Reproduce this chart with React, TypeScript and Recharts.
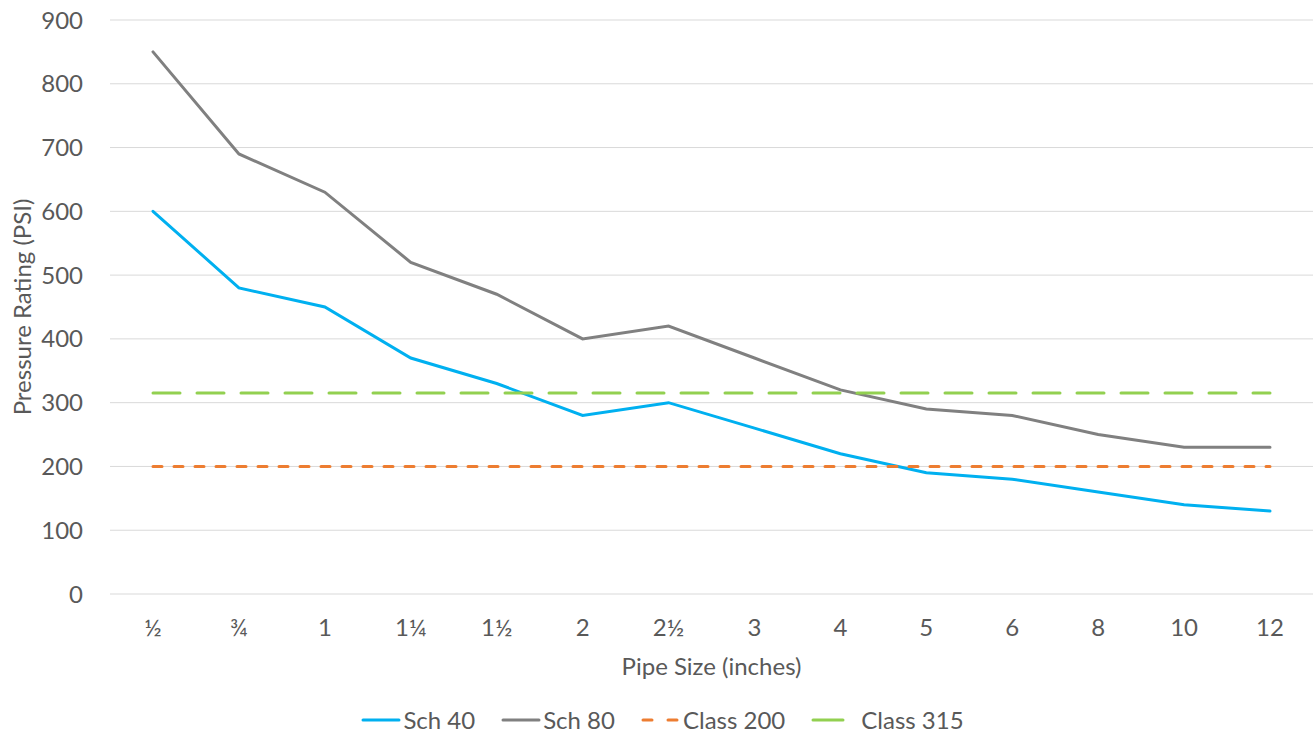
import { CartesianGrid, Legend, Line, LineChart, XAxis, YAxis } from "recharts";

const SIZES = ["½", "¾", "1", "1¼", "1½", "2", "2½", "3", "4", "5", "6", "8", "10", "12"];
const SCH40 = [600, 480, 450, 370, 330, 280, 300, 260, 220, 190, 180, 160, 140, 130];
const SCH80 = [850, 690, 630, 520, 470, 400, 420, 370, 320, 290, 280, 250, 230, 230];
const CLASS200 = [200, 200, 200, 200, 200, 200, 200, 200, 200, 200, 200, 200, 200, 200];
const CLASS315 = [315, 315, 315, 315, 315, 315, 315, 315, 315, 315, 315, 315, 315, 315];
const Y_TICKS = [0, 100, 200, 300, 400, 500, 600, 700, 800, 900];

const data = SIZES.map((size, i) => ({
  size,
  sch40: SCH40[i],
  sch80: SCH80[i],
  class200: CLASS200[i],
  class315: CLASS315[i],
}));

const FONT = "Lato, 'Open Sans', sans-serif";
const INK = "#595959";
const FS = 24;

const SERIES = [
  { key: "sch40", label: "Sch 40", color: "#00B0F0", dash: undefined as string | undefined, icon: undefined as string | undefined, textGap: 2 },
  { key: "sch80", label: "Sch 80", color: "#808080", dash: undefined, icon: undefined, textGap: 2 },
  { key: "class200", label: "Class 200", color: "#ED7D31", dash: "9 12", icon: "9 16", textGap: 2 },
  { key: "class315", label: "Class 315", color: "#92D050", dash: "27 17", icon: "30 20", textGap: 10 },
];

function LegendBox() {
  return (
    <div
      style={{
        display: "flex",
        justifyContent: "center",
        gap: 26,
        fontFamily: FONT,
        fontSize: FS,
        lineHeight: "28px",
        color: INK,
        paddingLeft: 12,
      }}
    >
      {SERIES.map((s) => (
        <span key={s.key} style={{ display: "flex", alignItems: "center", gap: s.textGap }}>
          <svg width={40} height={10}>
            <line
              x1={2}
              y1={5}
              x2={38}
              y2={5}
              stroke={s.color}
              strokeWidth={3}
              strokeLinecap="round"
              strokeDasharray={s.icon}
            />
          </svg>
          {s.label}
        </span>
      ))}
    </div>
  );
}

export default function App() {
  return (
    <div style={{ position: "absolute", left: 0, top: 0, background: "#fff" }}>
      <LineChart
        width={1313}
        height={734}
        data={data}
        margin={{ top: 20, right: 0, left: 0, bottom: 0 }}
      >
        <CartesianGrid vertical={false} stroke="#d9d9d9" strokeWidth={1} />
        <XAxis
          dataKey="size"
          axisLine={false}
          tickLine={false}
          tickSize={0}
          tickMargin={25}
          height={112}
          padding={{ left: 43, right: 43 }}
          interval={0}
          tick={{ fontSize: FS, fill: INK, fontFamily: FONT }}
          label={{
            value: "Pipe Size (inches)",
            position: "insideBottom",
            offset: 31,
            style: { fontSize: FS, fill: INK, fontFamily: FONT },
          }}
        />
        <YAxis
          domain={[0, 900]}
          ticks={Y_TICKS}
          axisLine={false}
          tickLine={false}
          tickSize={0}
          tickMargin={27}
          width={110}
          tick={{ fontSize: FS, fill: INK, fontFamily: FONT }}
          label={{
            value: "Pressure Rating (PSI)",
            angle: -90,
            position: "insideLeft",
            offset: 22,
            style: { fontSize: FS, fill: INK, fontFamily: FONT, textAnchor: "middle" },
          }}
        />
        <Legend verticalAlign="bottom" content={() => <LegendBox />} />
        {SERIES.map((s) => (
          <Line
            key={s.key}
            dataKey={s.key}
            name={s.label}
            type="linear"
            stroke={s.color}
            strokeWidth={3}
            strokeDasharray={s.dash}
            strokeLinecap="round"
            dot={false}
            activeDot={false}
            isAnimationActive={false}
          />
        ))}
      </LineChart>
    </div>
  );
}
